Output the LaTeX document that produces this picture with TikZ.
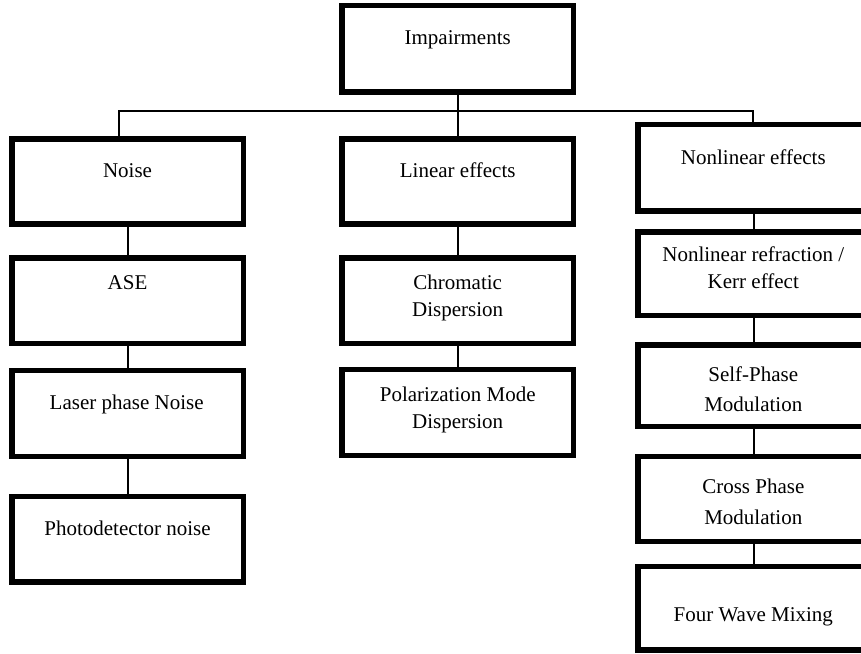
\documentclass[tikz,border=0pt]{standalone}
\usepackage{fontspec}
\setmainfont{Liberation Serif}
\begin{document}
\begin{tikzpicture}[x=1pt,y=-1pt,
  box/.style={draw=black,line width=5.5pt,rectangle,inner sep=0pt,outer sep=0pt,
    minimum width=#1},
  box/.default=231.5pt,
  lbl/.style={anchor=base,inner sep=0pt,align=center,font=\fontsize{21}{27}\selectfont},
  lblw/.style={anchor=base,inner sep=0pt,align=center,font=\fontsize{21}{30.5}\selectfont},
  conn/.style={draw=black,line width=2pt}]
\useasboundingbox (0,0) rectangle (861,653);
\clip (0,0) rectangle (861,653);
\coordinate (hL) at (119.3,111);
\coordinate (hR) at (753.3,111);
% boxes
\node[box=231.7pt,minimum height=86.5pt] (imp) at (457.85,48.75) {};
\node[box,minimum height=85pt] (noise) at (127.75,181.5) {};
\node[box,minimum height=85.5pt] (ase) at (127.75,300.75) {};
\node[box,minimum height=86pt] (laser) at (127.75,413.3) {};
\node[box,minimum height=85.7pt] (photo) at (127.75,539.15) {};
\node[box=231.7pt,minimum height=85pt] (lin) at (457.85,181.5) {};
\node[box=231.7pt,minimum height=85.5pt] (chrom) at (457.85,300.75) {};
\node[box=231.7pt,minimum height=85.8pt] (pmd) at (457.85,412.6) {};
\node[box=232pt,minimum height=86.3pt] (nonlin) at (754,167.85) {};
\node[box=232pt,minimum height=83.5pt] (kerr) at (754,273.75) {};
\node[box=232pt,minimum height=81.3pt] (spm) at (754,385.65) {};
\node[box=232pt,minimum height=85pt] (xpm) at (754,498.8) {};
\node[box=232pt,minimum height=83.7pt] (fwm) at (754,608.15) {};
% tree connectors
\draw[conn] (imp.south) -- (lin.north);
\draw[conn] (hL |- noise.north) -- (hL) -- (hR) -- (hR |- nonlin.north);
\draw[conn] (noise.south) -- (ase.north);
\draw[conn] (ase.south) -- (laser.north);
\draw[conn] (laser.south) -- (photo.north);
\draw[conn] (lin.south) -- (chrom.north);
\draw[conn] (chrom.south) -- (pmd.north);
\draw[conn] (nonlin.south) -- (kerr.north);
\draw[conn] (kerr.south) -- (spm.north);
\draw[conn] (spm.south) -- (xpm.north);
\draw[conn] (xpm.south) -- (fwm.north);
% labels (base = baseline of last line)
\node[lbl] (t-imp) at (457.7,44.3) {Impairments};
\node[lbl] (t-noise) at (127.5,177.3) {Noise};
\node[lbl] (t-ase) at (127.5,289.3) {ASE};
\node[lbl] (t-laser) at (126.7,409.3) {Laser phase Noise};
\node[lbl] (t-photo) at (127.5,535) {Photodetector noise};
\node[lbl] (t-lin) at (457.7,177.3) {Linear effects};
\node[lbl] (t-chrom) at (457.7,316.7) {Chromatic\\Dispersion};
\node[lbl] (t-pmd) at (457.7,428.3) {Polarization Mode\\Dispersion};
\node[lbl] (t-nonlin) at (753.3,164) {Nonlinear effects};
\node[lbl] (t-kerr) at (753.3,288.3) {Nonlinear refraction /\\Kerr effect};
\node[lblw] (t-spm) at (753.3,411.7) {Self-Phase\\Modulation};
\node[lblw] (t-xpm) at (753.3,524) {Cross Phase\\Modulation};
\node[lbl] (t-fwm) at (753.3,621.7) {Four Wave Mixing};
\end{tikzpicture}
\end{document}
